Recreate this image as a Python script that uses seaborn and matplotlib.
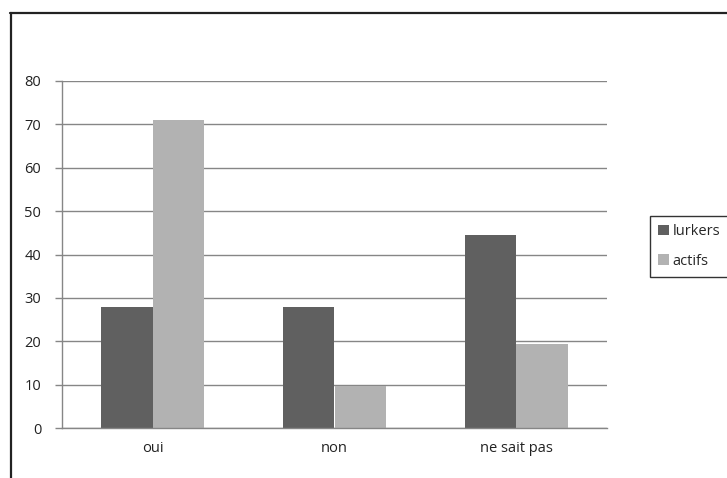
import matplotlib
matplotlib.use("Agg")
import matplotlib.pyplot as plt
from matplotlib.lines import Line2D
import pandas as pd
import seaborn as sns

# ==========================================
# DATA
# ==========================================
categories = ["oui", "non", "ne sait pas"]
series_names = ["lurkers", "actifs"]
lurkers = [27.8, 27.8, 44.4]
actifs = [70.9, 9.7, 19.4]
y_ticks = [0, 10, 20, 30, 40, 50, 60, 70, 80]

df = pd.DataFrame({
    "Reponse": categories * 2,
    "Groupe": [series_names[0]] * 3 + [series_names[1]] * 3,
    "Valeur": lurkers + actifs,
})

# ==========================================
# PLOT
# ==========================================
sns.set_theme(style="white")
plt.rcParams["font.family"] = ["Open Sans", "DejaVu Sans"]

fig = plt.figure(figsize=(7.27, 4.78), dpi=100)
ax = fig.add_axes([62 / 727, 50 / 478, 545 / 727, 347 / 478])

sns.barplot(data=df, x="Reponse", y="Valeur", hue="Groupe",
            palette=["#606060", "#b2b2b2"], width=0.567, gap=0,
            saturation=1, linewidth=0, ax=ax, legend=True)

ax.set_xlim(-0.5, 2.5)
ax.set_ylim(0, 80)
ax.set_yticks(y_ticks)
ax.yaxis.grid(True, color="#868686", linewidth=1)
ax.set_axisbelow(True)
ax.set_xlabel("")
ax.set_ylabel("")

for side in ["top", "right"]:
    ax.spines[side].set_visible(False)
for side in ["left", "bottom"]:
    ax.spines[side].set_color("#868686")
    ax.spines[side].set_linewidth(1)

# category boundaries carry the tick marks, labels sit at the centres
ax.set_xticks([-0.5, 0.5, 1.5, 2.5], minor=True)
ax.tick_params(axis="x", which="major", length=0, pad=9, labelsize=10.5, colors="#222222")
ax.tick_params(axis="x", which="minor", length=5, width=1, color="#868686", direction="out")
ax.tick_params(axis="y", length=5, width=1, color="#868686", direction="out",
               left=True, pad=10, labelsize=10.5, labelcolor="#222222")

leg = ax.legend(loc="upper left", bbox_to_anchor=(650 / 727, 1 - 216 / 478),
                bbox_transform=fig.transFigure, borderaxespad=0, frameon=True,
                fancybox=False, edgecolor="black", fontsize=10.5,
                handlelength=0.75, handleheight=0.75, handletextpad=0.25,
                labelspacing=1.0, borderpad=0.55)
leg.get_frame().set_linewidth(1)

# outer frame (top and left only, rest cropped off)
fig.add_artist(Line2D([10 / 727, 1], [1 - 13 / 478, 1 - 13 / 478],
                      transform=fig.transFigure, color="#222222", linewidth=1.6))
fig.add_artist(Line2D([10.5 / 727, 10.5 / 727], [0, 1 - 13 / 478],
                      transform=fig.transFigure, color="#222222", linewidth=1.6))

fig.savefig("out.png", dpi=100)
